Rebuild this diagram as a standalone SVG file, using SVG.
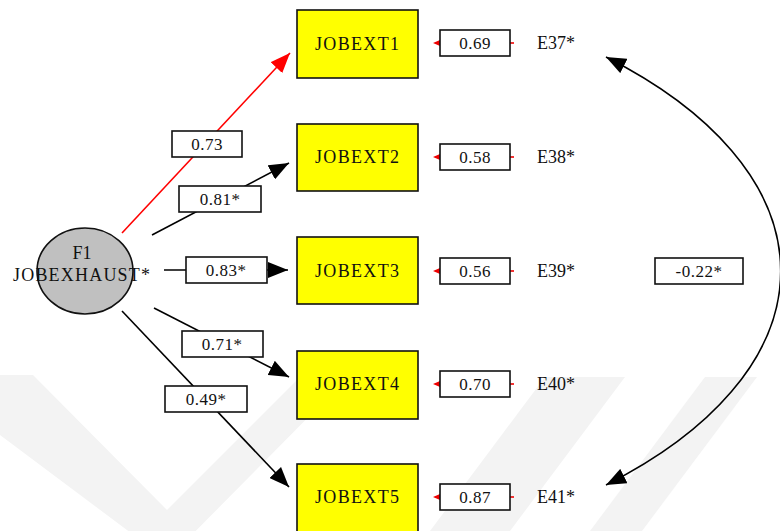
<svg xmlns="http://www.w3.org/2000/svg" width="780" height="531" viewBox="0 0 780 531">
<style>
text{font-family:"Liberation Serif","Times New Roman",serif;fill:#111}
.obs rect{fill:#ffff00;stroke:#111;stroke-width:1.6}
.obs text{font-size:18px;text-anchor:middle}
.lbl rect{fill:#fff;stroke:#111;stroke-width:1.6}
.lbl text{font-size:17px;text-anchor:middle;letter-spacing:0.5px}
.err text{font-size:18px}
.err .num{font-size:17px;text-anchor:middle;letter-spacing:0.5px}
.err .box{fill:#fff;stroke:#111;stroke-width:1.6}
.err .tip{fill:#e00}
.err line{stroke:#e00;stroke-width:1.6}
.path{fill:none;stroke:#000;stroke-width:1.6}
.wm{fill:#f3f3f3}
</style>
<defs>
<marker id="ah" viewBox="0 0 20 16" refX="20" refY="8" markerWidth="20" markerHeight="16" markerUnits="userSpaceOnUse" orient="auto-start-reverse"><path d="M0,0L20,8L0,16z" fill="#000"/></marker>
<marker id="ahr" viewBox="0 0 20 16" refX="20" refY="8" markerWidth="20" markerHeight="16" markerUnits="userSpaceOnUse" orient="auto"><path d="M0,0L20,8L0,16z" fill="#f00"/></marker>
</defs>
<rect width="780" height="531" fill="#fff"/>
<g id="watermark">
<polygon class="wm" points="-20,375 33,375 167,510 302,375 350,375 167,560 -20,420"/>
<polygon class="wm" points="545,377 625,377 510,531 430,531"/>
<polygon class="wm" points="705,377 757,377 642,531 590,531"/>
</g>
<g id="connectors">
<path class="path" d="M122,233 L290,53" style="stroke:#f00" marker-end="url(#ahr)"/>
<path class="path" d="M152,235 L289,163" marker-end="url(#ah)"/>
<path class="path" d="M164,270 L288,270" marker-end="url(#ah)"/>
<path class="path" d="M154,308 L289,377" marker-end="url(#ah)"/>
<path class="path" d="M122,311 L289,487" marker-end="url(#ah)"/>
<path class="path" d="M606,57 A584 300 0 0 1 606,485" marker-start="url(#ah)" marker-end="url(#ah)"/>
</g>
<g id="F1">
<ellipse cx="85" cy="271" rx="48" ry="43" fill="#c0c0c0" stroke="#111" stroke-width="1.6"/>
<text x="82" y="259" font-size="18" text-anchor="middle">F1</text>
<text x="13" y="281" font-size="18" textLength="137" lengthAdjust="spacing">JOBEXHAUST*</text>
</g>
<g class="lbl" id="lbl-073"><rect x="172" y="131" width="70" height="26"/><text x="207" y="150">0.73</text></g>
<g class="lbl" id="lbl-081"><rect x="179" y="186" width="82" height="26"/><text x="220" y="205">0.81*</text></g>
<g class="lbl" id="lbl-083"><rect x="186" y="257" width="81" height="26"/><text x="226" y="276">0.83*</text></g>
<g class="lbl" id="lbl-071"><rect x="182" y="331" width="81" height="26"/><text x="222" y="350">0.71*</text></g>
<g class="lbl" id="lbl-049"><rect x="165" y="386" width="82" height="26"/><text x="206" y="405">0.49*</text></g>
<g class="lbl" id="lbl-022"><rect x="655" y="258" width="88" height="26"/><text x="699" y="277">-0.22*</text></g>
<g class="obs" id="JOBEXT1"><rect x="297" y="10" width="121" height="68"/><text x="357" y="50" textLength="84" lengthAdjust="spacing">JOBEXT1</text></g>
<g class="obs" id="JOBEXT2"><rect x="297" y="124" width="121" height="67"/><text x="357" y="163" textLength="84" lengthAdjust="spacing">JOBEXT2</text></g>
<g class="obs" id="JOBEXT3"><rect x="297" y="237" width="121" height="67"/><text x="357" y="277" textLength="84" lengthAdjust="spacing">JOBEXT3</text></g>
<g class="obs" id="JOBEXT4"><rect x="297" y="351" width="121" height="68"/><text x="357" y="390" textLength="84" lengthAdjust="spacing">JOBEXT4</text></g>
<g class="obs" id="JOBEXT5"><rect x="297" y="464" width="121" height="80"/><text x="357" y="503" textLength="84" lengthAdjust="spacing">JOBEXT5</text></g>
<g class="err" id="E37"><polygon class="tip" points="433,43 440,40 440,46"/><line x1="510" y1="43" x2="514" y2="43"/><rect class="box" x="440" y="30" width="70" height="26"/><text class="num" x="475" y="49">0.69</text><text x="537" y="49">E37*</text></g>
<g class="err" id="E38"><polygon class="tip" points="433,157 440,154 440,160"/><line x1="510" y1="157" x2="514" y2="157"/><rect class="box" x="440" y="144" width="70" height="26"/><text class="num" x="475" y="163">0.58</text><text x="537" y="163">E38*</text></g>
<g class="err" id="E39"><polygon class="tip" points="433,271 440,268 440,274"/><line x1="510" y1="271" x2="514" y2="271"/><rect class="box" x="440" y="258" width="70" height="26"/><text class="num" x="475" y="277">0.56</text><text x="537" y="277">E39*</text></g>
<g class="err" id="E40"><polygon class="tip" points="433,384 440,381 440,387"/><line x1="510" y1="384" x2="514" y2="384"/><rect class="box" x="440" y="371" width="70" height="26"/><text class="num" x="475" y="390">0.70</text><text x="537" y="390">E40*</text></g>
<g class="err" id="E41"><polygon class="tip" points="433,497 440,494 440,500"/><line x1="510" y1="497" x2="514" y2="497"/><rect class="box" x="440" y="484" width="70" height="26"/><text class="num" x="475" y="503">0.87</text><text x="537" y="503">E41*</text></g>
</svg>
